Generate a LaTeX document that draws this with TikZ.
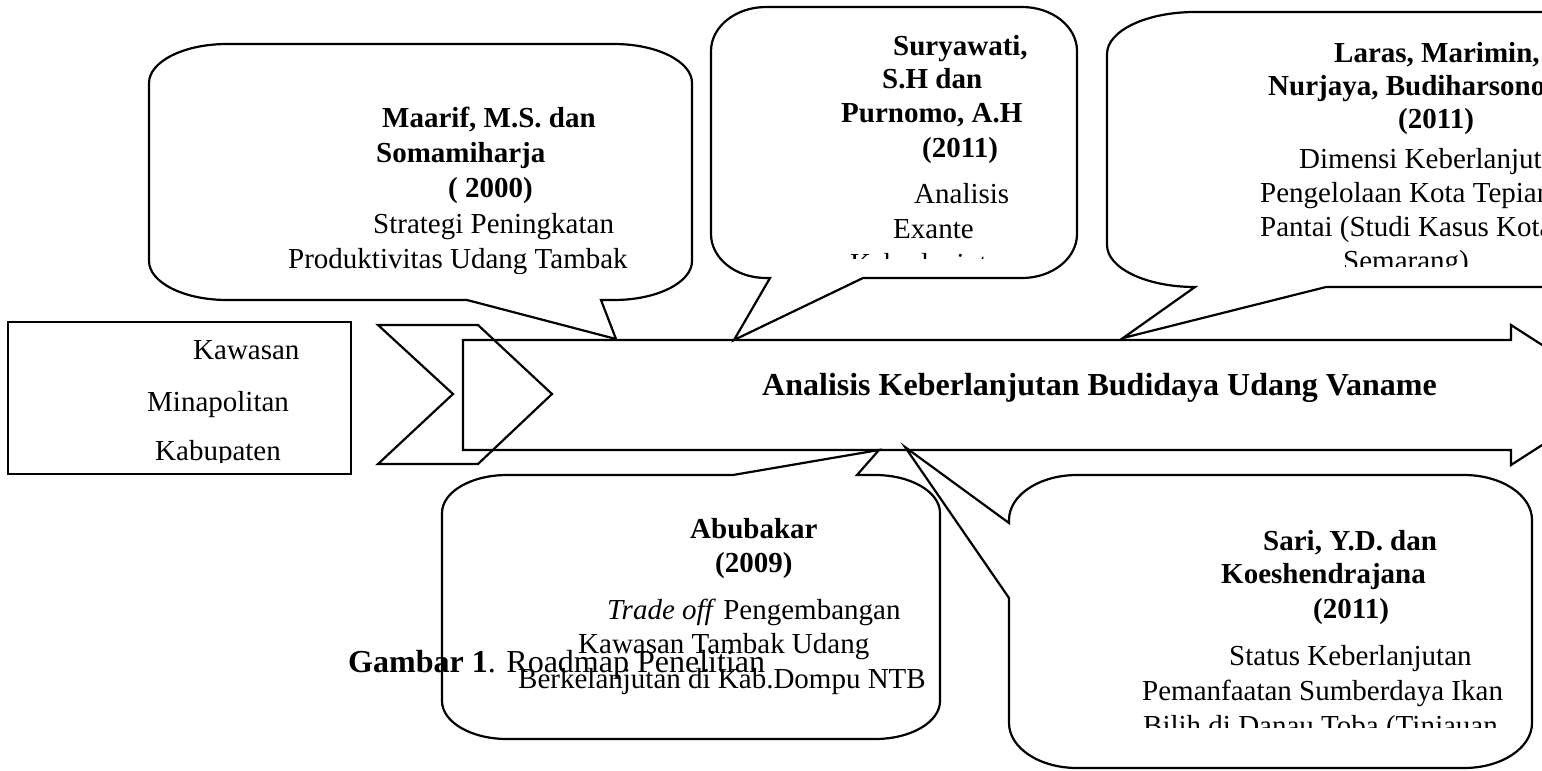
\documentclass[tikz,border=0pt]{standalone}
\usepackage{fontspec}
\setmainfont{Liberation Serif}
\begin{document}
\begin{tikzpicture}[x=1pt,y=-1pt,
  shp/.style={draw=black,line width=2.2pt,line join=miter},
  txt/.style={anchor=base west,inner sep=0pt,font=\fontsize{29}{34}\selectfont},
  btxt/.style={anchor=base west,inner sep=0pt,font=\fontsize{29}{34}\selectfont\bfseries},
  big/.style={anchor=base west,inner sep=0pt,font=\fontsize{32}{38}\selectfont}]
\useasboundingbox (0,0) rectangle (1542,771);
\begin{scope}
\clip (0,0) rectangle (1542,771);
% left box
\draw[shp] (8,322) rectangle (351,474);
% chevron
\draw[shp] (378,325) -- (478,325) -- (552,394) -- (478,464) -- (378,464) -- (453,394) -- cycle;
% main arrow
\draw[shp] (463,340) -- (1511,340) -- (1511,325) -- (1620,395) -- (1511,465) -- (1511,450) -- (463,450) -- cycle;
% callout 1
\draw[shp] (149,83) .. controls (149,61.5) and (184,44) .. (227,44) -- (614,44)
  .. controls (657,44) and (692,61.5) .. (692,83) -- (692,261)
  .. controls (692,282.5) and (657,300) .. (614,300) -- (601,300) -- (616,339) -- (467,300) -- (227,300)
  .. controls (184,300) and (149,282.5) .. (149,261) -- cycle;
% callout 2
\draw[shp] (711,51) .. controls (711,26.7) and (735.6,7) .. (766,7) -- (1022,7)
  .. controls (1052.4,7) and (1077,26.7) .. (1077,51) -- (1077,234)
  .. controls (1077,258.3) and (1052.4,278) .. (1022,278) -- (863,278) -- (734,340) -- (770,278) -- (766,278)
  .. controls (735.6,278) and (711,258.3) .. (711,234) -- cycle;
% callout 3
\draw[shp] (1107,54) .. controls (1107,30.8) and (1146.4,12) .. (1195,12) -- (1632,12)
  .. controls (1680.6,12) and (1720,30.8) .. (1720,54) -- (1720,245)
  .. controls (1720,268.2) and (1680.6,287) .. (1632,287) -- (1326,287) -- (1123,338) -- (1195,287)
  .. controls (1146.4,287) and (1107,268.2) .. (1107,245) -- cycle;
% callout 4
\draw[shp] (442,513) .. controls (442,492) and (471,475) .. (507,475) -- (733,475) -- (879,450) -- (857,475) -- (875,475)
  .. controls (911,475) and (940,492) .. (940,513) -- (940,701)
  .. controls (940,722) and (911,739) .. (875,739) -- (507,739)
  .. controls (471,739) and (442,722) .. (442,701) -- cycle;
% callout 5
\draw[shp] (1077,475) -- (1464,475) .. controls (1501.6,475) and (1532,495.1) .. (1532,520) -- (1532,723)
  .. controls (1532,747.9) and (1501.6,768) .. (1464,768) -- (1077,768)
  .. controls (1039.4,768) and (1009,747.9) .. (1009,723) -- (1009,598) -- (905,447) -- (1009,523) -- (1009,520)
  .. controls (1009,495.1) and (1039.4,475) .. (1077,475) -- cycle;

% left box text
\begin{scope}
\clip (8,322) rectangle (351,462);
\node[txt] (k1) at (193,359) {Kawasan};
\node[txt] (k2) at (147,411) {Minapolitan};
\node[txt] (k3) at (155,460) {Kabupaten};
\end{scope}

% title
\node[big,font=\fontsize{32}{38}\selectfont\bfseries] (title) at (762,395) {Analisis Keberlanjutan Budidaya Udang Vaname};

% callout 1 text
\begin{scope}
\clip (149,44) rectangle (692,273);
\node[btxt] (a1) at (382,127) {Maarif, M.S. dan};
\node[btxt] (a2) at (376,162) {Somamiharja};
\node[btxt] (a3) at (448,197) {( 2000)};
\node[txt] (a4) at (373,233) {Strategi Peningkatan};
\node[txt] (a5) at (288,268) {Produktivitas Udang Tambak};
\end{scope}

% callout 2 text
\begin{scope}
\clip (711,7) rectangle (1077,258);
\node[btxt] (b1) at (893,55) {Suryawati,};
\node[btxt] (b2) at (882,88) {S.H dan};
\node[btxt] (b3) at (841,122) {Purnomo, A.H};
\node[btxt] (b4) at (922,157) {(2011)};
\node[txt] (b5) at (914,203) {Analisis};
\node[txt] (b6) at (893,238) {Exante};
\node[txt] (b7) at (850,273) {Keberlanjutan};
\end{scope}

% callout 3 text
\begin{scope}
\clip (1107,12) rectangle (1542,266);
\node[btxt] (c1) at (1334,62) {Laras, Marimin,};
\node[btxt] (c2) at (1268,95) {Nurjaya, Budiharsono};
\node[btxt] (c3) at (1398,128) {(2011)};
\node[txt] (c4) at (1299,168) {Dimensi Keberlanjutan};
\node[txt] (c5) at (1260,202) {Pengelolaan Kota Tepian};
\node[txt] (c6) at (1260,236) {Pantai (Studi Kasus Kota};
\node[txt] (c7) at (1343,270) {Semarang)};
\end{scope}

% callout 4 text
\node[btxt] (d1) at (690,538) {Abubakar};
\node[btxt] (d2) at (715,572) {(2009)};
\node[txt] (d3) at (607,619) {\textit{Trade off} Pengembangan};
\node[txt] (d4) at (578,653) {Kawasan Tambak Udang};
\node[txt] (d5) at (518,688) {Berkelanjutan di Kab.Dompu NTB};

% callout 5 text
\begin{scope}
\clip (1009,475) rectangle (1532,727);
\node[btxt] (e1) at (1263,550) {Sari, Y.D. dan};
\node[btxt] (e2) at (1221,583) {Koeshendrajana};
\node[btxt] (e3) at (1313,618) {(2011)};
\node[txt] (e4) at (1229,665) {Status Keberlanjutan};
\node[txt] (e5) at (1142,700) {Pemanfaatan Sumberdaya Ikan};
\node[txt] (e6) at (1143,735) {Bilih di Danau Toba (Tinjauan};
\end{scope}

% caption
\node[big] (cap) at (348,672) {\textbf{Gambar 1}. Roadmap Penelitian};
\end{scope}
\end{tikzpicture}
\end{document}
